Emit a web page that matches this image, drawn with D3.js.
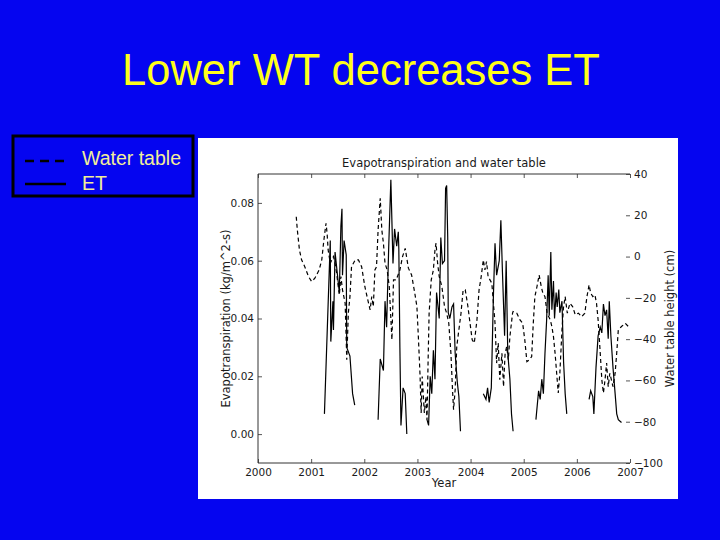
<!DOCTYPE html>
<html>
<head>
<meta charset="utf-8">
<script src="https://cdn.jsdelivr.net/npm/d3@7"></script>
<style>
  html, body { margin: 0; padding: 0; background: #0505f0; }
  svg { display: block; }
</style>
</head>
<body>
<div id="slide"></div>
<script>
// ET series, null = no data (gaps between growing seasons)
var etDates = [
  2001.25, 2001.36, 2001.37, 2001.41, 2001.42, 2001.45, 2001.49, 2001.53, 2001.56, 2001.58, 2001.59, 2001.62, 2001.66, 2001.67, 2001.73, 2001.78, 2001.82,
  2002.0,
  2002.26, 2002.30, 2002.36, 2002.39, 2002.42, 2002.46, 2002.50, 2002.54, 2002.57, 2002.61, 2002.64, 2002.65, 2002.67, 2002.69, 2002.73, 2002.77, 2002.80,
  2003.0,
  2003.18, 2003.21, 2003.24, 2003.27, 2003.30, 2003.33, 2003.36, 2003.41, 2003.44, 2003.47, 2003.51, 2003.53, 2003.55, 2003.57, 2003.58, 2003.61, 2003.65, 2003.68, 2003.71, 2003.75, 2003.78, 2003.81,
  2004.0,
  2004.24, 2004.29, 2004.32, 2004.35, 2004.39, 2004.43, 2004.46, 2004.49, 2004.54, 2004.57, 2004.60, 2004.64, 2004.67, 2004.70, 2004.74, 2004.77, 2004.80,
  2005.0,
  2005.23, 2005.28, 2005.31, 2005.34, 2005.37, 2005.40, 2005.43, 2005.46, 2005.48, 2005.51, 2005.53, 2005.56, 2005.58, 2005.61, 2005.63, 2005.66, 2005.68, 2005.72, 2005.75, 2005.78, 2005.81,
  2006.0,
  2006.23, 2006.26, 2006.30, 2006.32, 2006.36, 2006.40, 2006.44, 2006.47, 2006.50, 2006.53, 2006.56, 2006.59, 2006.61, 2006.64, 2006.68, 2006.72, 2006.75, 2006.78, 2006.84
];
var etValues = [
  0.007, 0.067, 0.032, 0.046, 0.036, 0.063, 0.056, 0.049, 0.072, 0.078, 0.055, 0.067, 0.062, 0.030, 0.027, 0.014, 0.010,
  null,
  0.005, 0.026, 0.022, 0.046, 0.037, 0.065, 0.088, 0.059, 0.071, 0.065, 0.070, 0.064, 0.030, 0.003, 0.016, 0.014, 0.000,
  null,
  0.005, 0.003, 0.020, 0.014, 0.029, 0.019, 0.049, 0.040, 0.068, 0.059, 0.060, 0.085, 0.086, 0.068, 0.042, 0.040, 0.044, 0.045, 0.028, 0.018, 0.013, 0.001,
  null,
  0.014, 0.012, 0.016, 0.011, 0.016, 0.048, 0.066, 0.055, 0.060, 0.074, 0.056, 0.034, 0.060, 0.028, 0.019, 0.007, 0.001,
  null,
  0.005, 0.015, 0.012, 0.019, 0.014, 0.028, 0.039, 0.055, 0.041, 0.063, 0.043, 0.053, 0.040, 0.049, 0.044, 0.050, 0.042, 0.046, 0.025, 0.014, 0.007,
  null,
  0.012, 0.015, 0.013, 0.007, 0.023, 0.034, 0.037, 0.035, 0.045, 0.041, 0.043, 0.033, 0.046, 0.034, 0.023, 0.014, 0.007, 0.005, 0.004
];

// water table height (cm)
var wtDates = [
  2000.72, 2000.74, 2000.78, 2000.82, 2000.88, 2000.95, 2001.01, 2001.07, 2001.15, 2001.20, 2001.24, 2001.28, 2001.30, 2001.32, 2001.36, 2001.39,
  2001.42, 2001.45, 2001.48, 2001.51, 2001.53, 2001.56, 2001.59, 2001.64, 2001.67, 2001.70, 2001.73, 2001.76, 2001.83, 2001.89, 2001.95, 2002.01,
  2002.08, 2002.11, 2002.14, 2002.17, 2002.20, 2002.23, 2002.26, 2002.30, 2002.33, 2002.36, 2002.39, 2002.43, 2002.47, 2002.52, 2002.55, 2002.60,
  2002.67, 2002.72, 2002.77, 2002.83, 2002.89, 2002.95, 2002.99, 2003.02, 2003.05, 2003.07, 2003.09, 2003.13, 2003.16, 2003.18, 2003.20, 2003.22,
  2003.26, 2003.30, 2003.33, 2003.35, 2003.38, 2003.41, 2003.46, 2003.51, 2003.55, 2003.59, 2003.63, 2003.66, 2003.68, 2003.71, 2003.74, 2003.78,
  2003.82, 2003.86, 2003.90, 2003.95, 2003.99, 2004.03, 2004.07, 2004.12, 2004.16, 2004.20, 2004.24, 2004.27, 2004.30, 2004.33, 2004.40, 2004.43,
  2004.46, 2004.49, 2004.52, 2004.55, 2004.59, 2004.62, 2004.65, 2004.68, 2004.71, 2004.74, 2004.79, 2004.80, 2004.87, 2004.93, 2004.98, 2005.02,
  2005.06, 2005.11, 2005.15, 2005.18, 2005.21, 2005.25, 2005.29, 2005.33, 2005.36, 2005.40, 2005.44, 2005.50, 2005.53, 2005.56, 2005.59, 2005.62,
  2005.65, 2005.68, 2005.72, 2005.75, 2005.78, 2005.82, 2005.87, 2005.92, 2005.97, 2006.03, 2006.09, 2006.15, 2006.19, 2006.23, 2006.26, 2006.30,
  2006.34, 2006.37, 2006.40, 2006.44, 2006.47, 2006.50, 2006.53, 2006.56, 2006.59, 2006.62, 2006.68, 2006.72, 2006.75, 2006.78, 2006.84, 2006.91,
  2006.97
];
var wtValues = [
  19.3, 12.9, 3.2, -1.6, -4.9, -9.7, -12.1, -10.5, -6.5, -1.6, 8.1, 16.1, 11.3, 3.2, -3.2, -1.6,
  0.0, -3.2, -8.1, -14.5, -18.6, -9.7, -16.1, -22.6, -50.0, -27.4, -19.4, -4.9, -1.6, -1.6, -4.9, -14.5,
  -22.6, -25.8, -19.4, -24.2, -6.5, -4.9, 12.9, 28.2, 12.9, 6.5, -3.2, -6.5, -14.5, -40.3, -11.3, -11.3,
  -6.5, 0.0, 4.0, -5.6, -8.9, -17.7, -24.2, -40.3, -58.1, -75.8, -58.1, -75.8, -67.8, -79.1, -51.6, -27.4,
  -11.3, -6.5, 3.2, 6.5, -3.2, -9.7, -14.5, -24.2, -27.4, -32.3, -46.8, -64.5, -74.2, -64.5, -43.6, -35.5,
  -27.4, -16.1, -16.1, -24.2, -32.3, -40.3, -41.9, -30.7, -16.1, -9.7, -1.6, -6.5, -2.4, -9.7, -12.9, -22.6,
  -32.3, -51.6, -41.9, -59.7, -46.8, -63.0, -46.8, -43.6, -50.0, -38.8, -27.4, -26.6, -27.4, -30.7, -32.3, -40.3,
  -50.9, -50.0, -48.4, -32.3, -19.4, -14.5, -8.9, -14.5, -17.7, -19.4, -27.4, -30.7, -33.9, -38.8, -46.8, -56.5,
  -66.1, -56.5, -35.5, -24.2, -19.4, -27.4, -22.6, -24.2, -28.2, -27.4, -29.1, -27.4, -19.4, -13.7, -17.7, -19.4,
  -18.6, -22.6, -30.7, -46.8, -59.7, -66.1, -59.7, -51.6, -63.0, -56.5, -63.0, -56.5, -46.8, -35.5, -33.9, -32.3,
  -33.9
];

// tick labels
var yearTicks = [2000, 2001, 2002, 2003, 2004, 2005, 2006, 2007];
var etTicks = [0.00, 0.02, 0.04, 0.06, 0.08];
var wtTicks = [-100, -80, -60, -40, -20, 0, 20, 40];

var legendItems = ["Water table", "ET"];

var W = 720, H = 540;
var svg = d3.select("#slide").append("svg")
    .attr("width", W)
    .attr("height", H);

// slide background
svg.append("rect")
    .attr("width", W).attr("height", H)
    .attr("fill", "#0505f0");

svg.append("text")
    .attr("x", 361)
    .attr("y", 85)
    .attr("text-anchor", "middle")
    .style("font-family", "Arial, 'Liberation Sans', sans-serif")
    .style("font-size", "43.5px")
    .attr("fill", "#ffff1a")
    .text("Lower WT decreases ET");

// legend box on the left
var legend = svg.append("g");
legend.append("rect")
    .attr("x", 13).attr("y", 136)
    .attr("width", 180).attr("height", 60)
    .attr("fill", "none")
    .attr("stroke", "#000")
    .attr("stroke-width", 3);
legend.selectAll("line")
    .data(legendItems)
  .enter().append("line")
    .attr("x1", 25).attr("x2", 66)
    .attr("y1", function(d, i) { return 161 + i * 23; })
    .attr("y2", function(d, i) { return 161 + i * 23; })
    .attr("stroke", "#000")
    .attr("stroke-width", 2.5)
    .attr("stroke-dasharray", function(d, i) { return i == 0 ? "9,6" : null; });
legend.selectAll("text")
    .data(legendItems)
  .enter().append("text")
    .attr("x", 82)
    .attr("y", function(d, i) { return 165 + i * 25; })
    .style("font-family", "Arial, 'Liberation Sans', sans-serif")
    .style("font-size", "19.5px")
    .attr("fill", "#f2ee98")
    .text(function(d) { return d; });

// white figure panel
svg.append("rect")
    .attr("x", 198).attr("y", 138)
    .attr("width", 480).attr("height", 361)
    .attr("fill", "#fff");

// plot box (named so they don't clash with window.top)
var pLeft = 258, pRight = 630, pTop = 174, pBottom = 463;
var font = "'DejaVu Sans', Verdana, sans-serif";
var ink = "#1a1a1a";

var x = d3.scaleLinear().domain([2000, 2007]).range([pLeft, pRight]);
var yEt = d3.scaleLinear().domain([-0.01, 0.09]).range([pBottom, pTop]);
var yWt = d3.scaleLinear().domain([-100, 40]).range([pBottom, pTop]);

var chart = svg.append("g");

// axes, ticks pointing inward like old matplotlib
var xAxis = d3.axisBottom(x).tickValues(yearTicks).tickFormat(d3.format("d")).tickSizeInner(-4).tickSizeOuter(0).tickPadding(6);
var xTop = d3.axisTop(x).tickValues(yearTicks).tickFormat("").tickSizeInner(-4).tickSizeOuter(0);
var yLeft = d3.axisLeft(yEt).tickValues(etTicks).tickFormat(d3.format(".2f")).tickSizeInner(-4).tickSizeOuter(0).tickPadding(4);
var yRight = d3.axisRight(yWt).tickValues(wtTicks).tickFormat(d3.format("d")).tickSizeInner(-4).tickSizeOuter(0).tickPadding(4);

function styleAxis(g) {
  g.selectAll("text")
    .style("font-family", font)
    .style("font-size", "10.5px")
    .attr("fill", ink);
  g.selectAll("line").attr("stroke", "#555");
  g.select(".domain").remove();
}

chart.append("g").attr("transform", "translate(0," + pBottom + ")").call(xAxis).call(styleAxis);
chart.append("g").attr("transform", "translate(0," + pTop + ")").call(xTop).call(styleAxis);
chart.append("g").attr("transform", "translate(" + pLeft + ",0)").call(yLeft).call(styleAxis);
chart.append("g").attr("transform", "translate(" + pRight + ",0)").call(yRight).call(styleAxis);

// spines: left, top, bottom
chart.append("path")
    .attr("d", "M" + pRight + "," + pTop + "H" + pLeft + "V" + pBottom + "H" + pRight)
    .attr("fill", "none")
    .attr("stroke", "#333")
    .attr("stroke-width", 1);

// data lines
chart.append("clipPath").attr("id", "plotclip")
  .append("rect")
    .attr("x", pLeft).attr("y", pTop)
    .attr("width", pRight - pLeft).attr("height", pBottom - pTop);

var etLine = d3.line()
    .defined(function(d) { return d[1] != null; })
    .x(function(d) { return x(d[0]); })
    .y(function(d) { return yEt(d[1]); });
var wtLine = d3.line()
    .x(function(d) { return x(d[0]); })
    .y(function(d) { return yWt(d[1]); });

chart.append("path")
    .datum(d3.zip(wtDates, wtValues))
    .attr("clip-path", "url(#plotclip)")
    .attr("fill", "none")
    .attr("stroke", "#000")
    .attr("stroke-width", 1.2)
    .attr("stroke-dasharray", "4,3")
    .attr("d", wtLine);

chart.append("path")
    .datum(d3.zip(etDates, etValues))
    .attr("clip-path", "url(#plotclip)")
    .attr("fill", "none")
    .attr("stroke", "#000")
    .attr("stroke-width", 1.2)
    .attr("d", etLine);

// titles
chart.append("text")
    .attr("x", (pLeft + pRight) / 2).attr("y", 167)
    .attr("text-anchor", "middle")
    .style("font-family", font).style("font-size", "11.5px")
    .attr("fill", ink)
    .text("Evapotranspiration and water table");

chart.append("text")
    .attr("x", (pLeft + pRight) / 2).attr("y", 487)
    .attr("text-anchor", "middle")
    .style("font-family", font).style("font-size", "11.5px")
    .attr("fill", ink)
    .text("Year");

chart.append("text")
    .attr("transform", "translate(230," + (pTop + pBottom) / 2 + ") rotate(-90)")
    .attr("text-anchor", "middle")
    .style("font-family", font).style("font-size", "11.5px")
    .attr("fill", ink)
    .text("Evapotranspiration (kg/m^2-s)");

chart.append("text")
    .attr("transform", "translate(674," + (pTop + pBottom) / 2 + ") rotate(-90)")
    .attr("text-anchor", "middle")
    .style("font-family", font).style("font-size", "11.5px")
    .attr("fill", ink)
    .text("Water table height (cm)");
</script>
</body>
</html>
